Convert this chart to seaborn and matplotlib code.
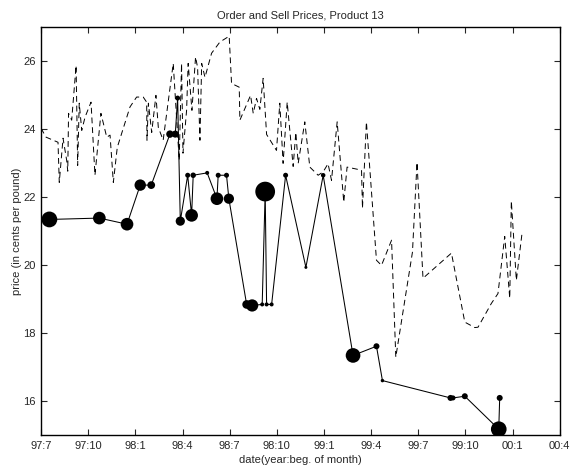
import numpy as np
import pandas as pd
import matplotlib
matplotlib.use("Agg")
import matplotlib.pyplot as plt
import seaborn as sns

# ---- data (months since July 1997) ----
order_month = [0.00, 0.32, 1.08, 1.16, 1.40, 1.63, 1.70, 1.75, 1.95, 2.23, 2.33, 2.43,
               2.59, 2.80, 3.18, 3.43, 3.81, 4.18, 4.39, 4.60, 4.85, 5.66, 6.08, 6.50,
               6.72, 6.74, 6.83, 7.04, 7.31, 7.46, 7.77, 8.41, 8.79, 8.94, 9.03, 9.26,
               9.36, 9.60, 9.83, 9.96, 10.11, 10.22, 10.43, 10.85, 11.38, 11.97, 12.12,
               12.61, 12.65, 13.33, 13.50, 13.71, 13.92, 14.13, 14.35, 14.98, 15.19,
               15.40, 15.66, 16.04, 16.21, 16.36, 16.78, 17.10, 17.63, 17.95, 18.26,
               18.48, 18.84, 19.26, 19.47, 20.39, 20.45, 20.70, 21.34, 21.66, 22.30,
               22.57, 23.63, 23.92, 24.30, 26.11, 26.96, 27.59, 27.80, 28.65, 29.07,
               29.50, 29.82, 29.92, 30.24, 30.61]
order_price = [24.02, 23.76, 23.61, 22.43, 23.73, 23.08, 22.76, 24.46, 24.26, 25.87, 22.93, 24.76,
               23.96, 24.35, 24.79, 22.64, 24.46, 23.76, 23.82, 22.43, 23.46, 24.65, 24.94, 24.94,
               24.79, 23.67, 24.76, 23.90, 24.99, 24.05, 23.67, 25.93, 23.08, 25.93, 23.29, 24.55,
               25.93, 24.55, 26.12, 25.81, 23.67, 25.93, 25.52, 26.23, 26.56, 26.73, 25.34,
               25.23, 24.26, 24.99, 24.46, 24.90, 24.58, 25.49, 23.84, 23.37, 24.76,
               22.99, 24.79, 22.90, 23.90, 22.99, 24.21, 22.88, 22.64, 22.74, 22.98,
               22.49, 24.21, 21.85, 22.88, 22.79, 21.67, 24.21, 20.14, 19.99, 20.73,
               17.29, 20.38, 23.02, 19.61, 20.35, 18.32, 18.16, 18.17, 18.87, 19.16,
               20.84, 19.02, 21.88, 19.55, 20.97]

sell_month = [0.53, 3.71, 5.47, 6.31, 7.01, 8.20, 8.54, 8.69, 8.86, 9.33, 9.58, 9.68,
              10.57, 11.19, 11.27, 11.80, 11.95, 13.08, 13.43, 14.07, 14.26, 14.35, 14.67,
              15.56, 16.85, 17.95, 19.85, 21.34, 21.72, 26.05, 26.21, 26.96, 29.12, 29.18]
sell_price = [21.34, 21.38, 21.20, 22.35, 22.35, 23.85, 23.85, 24.91, 21.29, 22.64, 21.46, 22.64,
              22.71, 21.95, 22.64, 22.64, 21.95, 18.84, 18.81, 18.84, 22.16, 18.84, 18.84,
              22.64, 19.93, 22.64, 17.34, 17.61, 16.60, 16.09, 16.09, 16.14, 15.17, 16.09]
sell_qty = [250, 160, 160, 130, 60, 55, 50, 25, 85, 25, 160, 30,
            16, 160, 25, 25, 105, 75, 150, 16, 390, 16, 16,
            25, 9, 20, 215, 36, 12, 36, 25, 36, 245, 36]

tick_months = [0, 3, 6, 9, 12, 15, 18, 21, 24, 27, 30, 33]
tick_labels = ["97:7", "97:10", "98:1", "98:4", "98:7", "98:10", "99:1",
               "99:4", "99:7", "99:10", "00:1", "00:4"]

orders = pd.DataFrame({"month": order_month, "price": order_price})
sells = pd.DataFrame({"month": sell_month, "price": sell_price, "qty": sell_qty})

# ---- style ----
sns.set_style("ticks")
plt.rcParams["font.family"] = ["Liberation Sans", "DejaVu Sans"]
plt.rcParams["xtick.direction"] = "in"
plt.rcParams["ytick.direction"] = "in"

fig = plt.figure(figsize=(5.7, 4.7), dpi=100)
ax = fig.add_axes([0.072, 0.0745, 0.91, 0.868])

sns.lineplot(data=orders, x="month", y="price", sort=False, color="black",
             linewidth=0.7, ax=ax, estimator=None)
ax.lines[-1].set_dashes([6, 4])

sns.lineplot(data=sells, x="month", y="price", sort=False, color="black",
             linewidth=0.75, ax=ax, estimator=None)
sns.scatterplot(data=sells, x="month", y="price", size="qty",
                sizes=(0, 400 * 0.5184), size_norm=(0, 400),
                color="black", edgecolor="none", legend=False, ax=ax, zorder=3)

ax.set_xlim(0, 33)
ax.set_ylim(15, 27)
ax.set_xticks(tick_months)
ax.set_xticklabels(tick_labels)
ax.set_yticks([16, 18, 20, 22, 24, 26])
ax.tick_params(axis="both", which="both", top=True, right=True, length=4,
               width=0.8, labelsize=8, pad=4)
for s in ax.spines.values():
    s.set_linewidth(1.0)
    s.set_color("black")

ax.set_title("Order and Sell Prices, Product 13", fontsize=8, pad=6)
ax.set_xlabel("date(year:beg. of month)", fontsize=8, labelpad=3)
ax.set_ylabel("price (in cents per pound)", fontsize=8, labelpad=1)

fig.savefig("out.png", dpi=100)
